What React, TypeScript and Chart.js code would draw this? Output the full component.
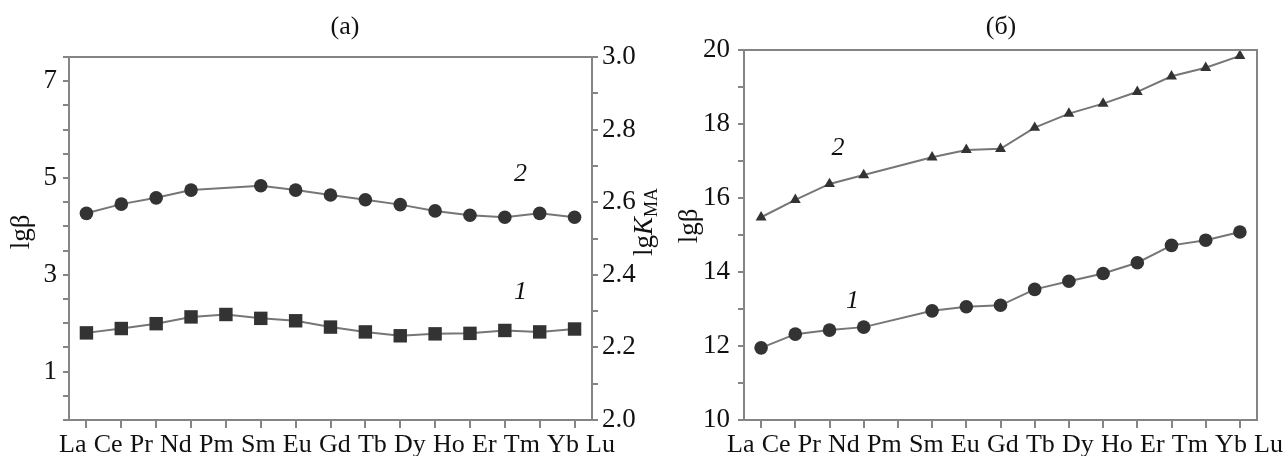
import React, { useEffect, useRef } from 'react';
import { Chart, registerables } from 'chart.js';

Chart.register(...registerables);

// ---------- data ----------
const elements = ['La', 'Ce', 'Pr', 'Nd', 'Pm', 'Sm', 'Eu', 'Gd', 'Tb', 'Dy', 'Ho', 'Er', 'Tm', 'Yb', 'Lu'];

// panel (а): lgβ
const aCurve2 = [4.27, 4.46, 4.59, 4.75, null, 4.84, 4.75, 4.65, 4.55, 4.45, 4.32, 4.23, 4.19, 4.27, 4.19];
const aCurve1 = [1.80, 1.89, 1.99, 2.13, 2.18, 2.10, 2.05, 1.92, 1.82, 1.74, 1.78, 1.79, 1.85, 1.82, 1.88];

// panel (б): lgβ
const bCurve2 = [15.48, 15.95, 16.38, 16.62, null, 17.10, 17.30, 17.33, 17.90, 18.28, 18.55, 18.87, 19.29, 19.52, 19.84];
const bCurve1 = [11.95, 12.32, 12.43, 12.51, null, 12.95, 13.06, 13.10, 13.53, 13.75, 13.96, 14.25, 14.72, 14.86, 15.08];

// tick values
const aLeftLabels = [1, 3, 5, 7];
const aLeftTicks = [0, 0.5, 1, 1.5, 2, 2.5, 3, 3.5, 4, 4.5, 5, 5.5, 6, 6.5, 7, 7.5];
const aRightLabels = [2.0, 2.2, 2.4, 2.6, 2.8, 3.0];
const aRightTicks = [2.0, 2.1, 2.2, 2.3, 2.4, 2.5, 2.6, 2.7, 2.8, 2.9, 3.0];
const bLabels = [10, 12, 14, 16, 18, 20];
const bTicks = [10, 11, 12, 13, 14, 15, 16, 17, 18, 19, 20];

// ---------- styles ----------
const SERIF = '"Liberation Serif", "Times New Roman", serif';
const AXIS = '#858585';
const LINE = '#767676';
const MARK = '#333333';
const FS = 26;

type Part = { text: string; font: string; dy?: number };

function drawRotated(ctx: CanvasRenderingContext2D, x: number, y: number, parts: Part[]) {
  ctx.save();
  ctx.translate(x, y);
  ctx.rotate(-Math.PI / 2);
  ctx.textAlign = 'left';
  ctx.textBaseline = 'middle';
  let total = 0;
  const widths = parts.map((p) => {
    ctx.font = p.font;
    const w = ctx.measureText(p.text).width;
    total += w;
    return w;
  });
  let cx = -total / 2;
  parts.forEach((p, i) => {
    ctx.font = p.font;
    ctx.fillText(p.text, cx, p.dy || 0);
    cx += widths[i];
  });
  ctx.restore();
}

function makeDecor(o: any) {
  return {
    id: 'decor',
    afterDraw(chart: any) {
      const { ctx, chartArea: a, scales } = chart;
      ctx.save();
      ctx.strokeStyle = AXIS;
      ctx.lineWidth = 2;
      ctx.beginPath();
      ctx.moveTo(a.left, a.top);
      ctx.lineTo(a.right, a.top);
      if (o.rightBorder) ctx.lineTo(a.right, a.bottom);
      ctx.stroke();

      // category names typeset as one evenly spaced line under the axis
      ctx.fillStyle = '#111';
      ctx.font = `${FS}px ${SERIF}`;
      ctx.textAlign = 'left';
      ctx.textBaseline = 'alphabetic';
      const x0 = a.left + o.labelStart;
      const x1 = a.right + o.labelEnd;
      const widths = elements.map((el) => ctx.measureText(el).width);
      const sum = widths.reduce((s, w) => s + w, 0);
      const gap = (x1 - x0 - sum) / (elements.length - 1);
      let cx = x0;
      elements.forEach((el, i) => {
        ctx.fillText(el, cx, o.labelBaseline);
        cx += widths[i] + gap;
      });

      ctx.textAlign = 'center';
      ctx.textBaseline = 'middle';
      ctx.font = `26px ${SERIF}`;
      ctx.fillText(o.title, o.titleX, o.titleY);

      ctx.font = `italic 26px ${SERIF}`;
      o.notes.forEach((n: any) => {
        ctx.fillText(n.text, scales.x.getPixelForValue(n.x), scales.y.getPixelForValue(n.y));
      });

      o.axisTitles.forEach((t: any) => drawRotated(ctx, t.x, t.y, t.parts));
      ctx.restore();
    },
  };
}

const baseX = (height: number) => ({
  type: 'category' as const,
  offset: true,
  ticks: { display: false },
  grid: { drawOnChartArea: false, drawTicks: true, tickLength: 8, color: AXIS, lineWidth: 2 },
  border: { display: true, color: AXIS, width: 2 },
  afterFit: (s: any) => { s.height = height; },
});

const yAxis = (min: number, max: number, ticks: number[], labels: number[], fmt: (v: number) => string, width: number, position: 'left' | 'right', padding: number) => ({
  type: 'linear' as const,
  position,
  min,
  max,
  afterBuildTicks: (s: any) => { s.ticks = ticks.map((v) => ({ value: v })); },
  ticks: {
    autoSkip: false,
    padding,
    color: '#111',
    font: { family: SERIF, size: 27 },
    callback: (v: any) => (labels.some((l) => Math.abs(l - v) < 1e-9) ? fmt(v) : ''),
  },
  grid: { drawOnChartArea: false, drawTicks: true, tickLength: 6, color: AXIS, lineWidth: 2 },
  border: { display: true, color: AXIS, width: 2 },
  afterFit: (s: any) => { s.width = width; },
});

const ds = (data: (number | null)[], style: string, radius: number) => ({
  data,
  borderColor: LINE,
  borderWidth: 2,
  backgroundColor: MARK,
  pointBackgroundColor: MARK,
  pointBorderColor: MARK,
  pointBorderWidth: 0,
  pointStyle: style,
  pointRadius: radius,
  spanGaps: true,
  tension: 0,
  clip: false as any,
});

export default function App() {
  const leftRef = useRef<HTMLCanvasElement>(null);
  const rightRef = useRef<HTMLCanvasElement>(null);

  useEffect(() => {
    const left = new Chart(leftRef.current!, {
      type: 'line',
      data: {
        labels: elements,
        datasets: [ds(aCurve2, 'circle', 6.8), ds(aCurve1, 'rect', 9.5)],
      },
      options: {
        responsive: false,
        animation: false,
        events: [],
        layout: { padding: { top: 57, left: 0, right: 0, bottom: 0 } },
        plugins: { legend: { display: false }, tooltip: { enabled: false } },
        scales: {
          x: baseX(36),
          y: yAxis(0, 7.5, aLeftTicks, aLeftLabels, (v) => String(v), 69, 'left', 6),
          y2: yAxis(2.0, 3.0, aRightTicks, aRightLabels, (v) => v.toFixed(1), 88, 'right', 4),
        },
      },
      plugins: [
        makeDecor({
          rightBorder: false,
          labelStart: -10,
          labelEnd: 23,
          labelBaseline: 452,
          title: '(а)',
          titleX: 345,
          titleY: 27,
          notes: [
            { text: '2', x: 12.45, y: 5.08 },
            { text: '1', x: 12.45, y: 2.64 },
          ],
          axisTitles: [
            { x: 22, y: 232, parts: [{ text: 'lgβ', font: `27px ${SERIF}` }] },
            {
              x: 645,
              y: 222,
              parts: [
                { text: 'lg', font: `27px ${SERIF}` },
                { text: 'K', font: `italic 27px ${SERIF}` },
                { text: 'MA', font: `18px ${SERIF}`, dy: 7 },
              ],
            },
          ],
        }),
      ],
    });

    const right = new Chart(rightRef.current!, {
      type: 'line',
      data: {
        labels: elements,
        datasets: [ds(bCurve2, 'triangle', 6.3), ds(bCurve1, 'circle', 6.8)],
      },
      options: {
        responsive: false,
        animation: false,
        events: [],
        layout: { padding: { top: 50, left: 0, right: 31, bottom: 0 } },
        plugins: { legend: { display: false }, tooltip: { enabled: false } },
        scales: {
          x: baseX(36),
          y: yAxis(10, 20, bTicks, bLabels, (v) => String(v), 104, 'left', 8),
        },
      },
      plugins: [
        makeDecor({
          rightBorder: true,
          labelStart: -17,
          labelEnd: 26,
          labelBaseline: 452,
          title: '(б)',
          titleX: 361,
          titleY: 27,
          notes: [
            { text: '2', x: 2.25, y: 17.35 },
            { text: '1', x: 2.67, y: 13.2 },
          ],
          axisTitles: [{ x: 50, y: 226, parts: [{ text: 'lgβ', font: `27px ${SERIF}` }] }],
        }),
      ],
    });

    return () => {
      left.destroy();
      right.destroy();
    };
  }, []);

  return (
    <div style={{ position: 'absolute', left: 0, top: 0, width: 1288, height: 456, background: '#fff', overflow: 'hidden' }}>
      <canvas ref={rightRef} width={648} height={456} style={{ position: 'absolute', left: 640, top: 0 }} />
      <canvas ref={leftRef} width={680} height={456} style={{ position: 'absolute', left: 0, top: 0 }} />
    </div>
  );
}
